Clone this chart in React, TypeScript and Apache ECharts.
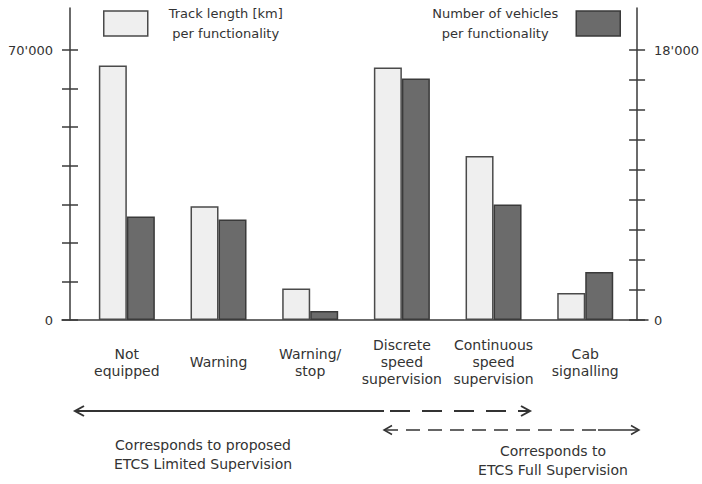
import React, { useEffect, useRef } from "react";
import * as echarts from "echarts";

const categories = [
  "Not\nequipped",
  "Warning",
  "Warning/\nstop",
  "Discrete\nspeed\nsupervision",
  "Continuous\nspeed\nsupervision",
  "Cab\nsignalling",
];
const trackLength = [66000, 29500, 8200, 65500, 42500, 7000];
const vehicles = [6900, 6700, 600, 16100, 7700, 3200];
const leftTicks = [0, 10000, 20000, 30000, 40000, 50000, 60000, 70000];
const leftLabels = [0, 70000];
const rightTicks = [0, 2000, 4000, 6000, 8000, 10000, 12000, 14000, 16000, 18000];
const rightLabels = [0, 18000];
const trackLines = ["Track length [km]", "per functionality"];
const vehLines = ["Number of vehicles", "per functionality"];
const trackName = trackLines.join("\n");
const vehName = vehLines.join("\n");

const FONT = "DejaVu Sans";
const AX = "#3a3a3a";
const TXT = "#333";
const LEFT_MAX = 80900;
const RIGHT_MAX = 20800;

const fmt = (v: number) => (v === 0 ? "0" : String(v / 1000) + "'000");

export default function App() {
  const ref = useRef<HTMLDivElement>(null);
  useEffect(() => {
    if (!ref.current) return;
    const chart = echarts.init(ref.current, undefined, { renderer: "svg" });
    const yBase = (max: number, pos: string, offset: number, ticks: number[], labels: number[], inside: boolean, main: boolean) => ({
      type: "value",
      gridIndex: 0,
      position: pos,
      offset,
      min: 0,
      max,
      splitLine: { show: false },
      axisLine: { show: main, lineStyle: { color: AX, width: 1.5 } },
      axisTick: {
        show: true,
        inside,
        length: 8,
        customValues: ticks,
        lineStyle: { color: AX, width: 1.5 },
      },
      axisLabel: main
        ? {
            show: true,
            customValues: labels,
            formatter: fmt,
            margin: 17,
            color: TXT,
            fontSize: 13,
            fontFamily: FONT,
          }
        : { show: false },
    });
    const legendText = (w: number, pad: number[]) => ({
      fontSize: 13,
      color: TXT,
      fontFamily: FONT,
      padding: pad,
      rich: {
        a: { width: w, align: "center", fontSize: 13, lineHeight: 20, color: TXT, fontFamily: FONT },
      },
    });
    chart.setOption({
      animation: false,
      backgroundColor: "#ffffff",
      grid: [
        { left: 81, right: 68, top: 8, bottom: 164, containLabel: false },
        { left: 62, right: 54, top: 8, bottom: 164, containLabel: false },
      ],
      legend: [
        {
          data: [trackName],
          left: 98,
          top: 2,
          itemWidth: 44,
          itemHeight: 25,
          icon: "rect",
          selectedMode: false,
          formatter: () => trackLines.map((l) => "{a|" + l + "}").join("\n"),
          itemStyle: { color: "#efefef", borderColor: "#4a4a4a", borderWidth: 1.5 },
          textStyle: legendText(128, [0, 0, 0, 9]),
        },
        {
          data: [vehName],
          right: 76,
          top: 2,
          align: "right",
          itemWidth: 44,
          itemHeight: 25,
          icon: "rect",
          selectedMode: false,
          formatter: () => vehLines.map((l) => "{a|" + l + "}").join("\n"),
          itemStyle: { color: "#6b6b6b", borderColor: "#3a3a3a", borderWidth: 1.5 },
          textStyle: legendText(134, [0, 9, 0, 0]),
        },
      ],
      xAxis: [
        {
          type: "category",
          gridIndex: 0,
          data: categories,
          axisLine: { show: false },
          axisTick: { show: false },
          axisLabel: {
            interval: 0,
            color: TXT,
            fontSize: 14,
            lineHeight: 17,
            fontFamily: FONT,
            verticalAlign: "middle",
            margin: 42,
          },
        },
        {
          type: "value",
          gridIndex: 1,
          min: 0,
          max: 1,
          axisLine: { show: true, lineStyle: { color: AX, width: 1.5 } },
          axisTick: { show: false },
          axisLabel: { show: false },
          splitLine: { show: false },
        },
      ],
      yAxis: [
        yBase(LEFT_MAX, "left", 11, leftTicks, leftLabels, false, true),
        yBase(RIGHT_MAX, "right", 6, rightTicks, rightLabels, false, true),
        yBase(LEFT_MAX, "left", 11, leftTicks, leftLabels, true, false),
        yBase(RIGHT_MAX, "right", 6, rightTicks, rightLabels, true, false),
        { type: "value", gridIndex: 1, show: false, min: 0, max: 1 },
      ],
      series: [
        {
          name: trackName,
          type: "bar",
          xAxisIndex: 0,
          yAxisIndex: 0,
          data: trackLength,
          barWidth: 28,
          barGap: "0%",
          itemStyle: { color: "#efefef", borderColor: "#4a4a4a", borderWidth: 1.5 },
        },
        {
          name: vehName,
          type: "bar",
          xAxisIndex: 0,
          yAxisIndex: 1,
          data: vehicles,
          barWidth: 28,
          barGap: "0%",
          itemStyle: { color: "#6b6b6b", borderColor: "#3a3a3a", borderWidth: 1.5 },
        },
      ],
      graphic: [
        { type: "line", shape: { x1: 75, y1: 411, x2: 384, y2: 411 }, style: { stroke: "#333", lineWidth: 2 } },
        { type: "line", shape: { x1: 390, y1: 411, x2: 529, y2: 411 }, style: { stroke: "#333", lineWidth: 2, lineDash: [20, 12] } },
        { type: "polyline", shape: { points: [[84, 406], [75, 411], [84, 416]] }, style: { stroke: "#333", lineWidth: 2, fill: null } },
        { type: "polyline", shape: { points: [[521, 406], [530, 411], [521, 416]] }, style: { stroke: "#333", lineWidth: 2, fill: null } },
        { type: "line", shape: { x1: 384, y1: 430, x2: 598, y2: 430 }, style: { stroke: "#333", lineWidth: 1.5, lineDash: [14, 8] } },
        { type: "line", shape: { x1: 598, y1: 430, x2: 639, y2: 430 }, style: { stroke: "#333", lineWidth: 1.5 } },
        { type: "polyline", shape: { points: [[392, 425.5], [384, 430], [392, 434.5]] }, style: { stroke: "#333", lineWidth: 1.5, fill: null } },
        { type: "polyline", shape: { points: [[631, 425.5], [639, 430], [631, 434.5]] }, style: { stroke: "#333", lineWidth: 1.5, fill: null } },
        {
          type: "text",
          x: 203,
          y: 454,
          style: {
            text: "Corresponds to proposed\nETCS Limited Supervision",
            fill: TXT,
            font: "14px " + FONT,
            lineHeight: 19,
            align: "center",
            verticalAlign: "middle",
          },
        },
        {
          type: "text",
          x: 553,
          y: 460,
          style: {
            text: "Corresponds to\nETCS Full Supervision",
            fill: TXT,
            font: "14px " + FONT,
            lineHeight: 19,
            align: "center",
            verticalAlign: "middle",
          },
        },
      ],
    });
    return () => chart.dispose();
  }, []);
  return <div ref={ref} style={{ width: 702, height: 484, position: "absolute", left: 0, top: 0 }} />;
}
